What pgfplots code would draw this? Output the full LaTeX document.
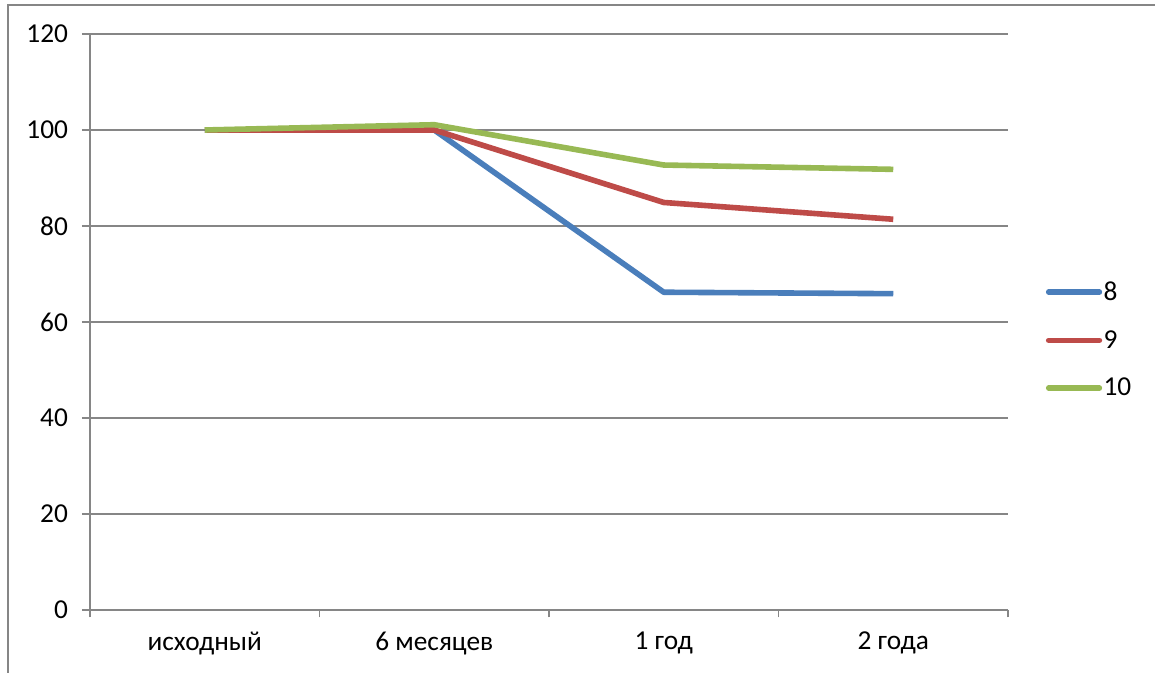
\documentclass[border=0pt]{standalone}
\usepackage{pgfplots}
\pgfplotsset{compat=1.18}
\usepackage{fontspec}
\setmainfont{Carlito}
\definecolor{gridgray}{HTML}{868686}
\definecolor{sblue}{HTML}{4A7EBB}
\definecolor{sred}{HTML}{BE4B48}
\definecolor{sgreen}{HTML}{98B954}
\begin{document}
\begin{tikzpicture}
\useasboundingbox (0,0) rectangle (866.25pt,504.75pt);
\draw[gridgray, line width=1.2pt] (6pt,-2pt) -- (6pt,501pt) -- (870pt,501pt);
\begin{axis}[
  at={(67.5pt,47.25pt)}, anchor=south west,
  scale only axis, width=688.5pt, height=432pt,
  xmin=-0.5, xmax=3.5, ymin=0, ymax=120,
  axis x line*=bottom, axis y line*=left,
  axis line style={gridgray, line width=1pt},
  every outer x axis line/.append style={-}, every outer y axis line/.append style={-},
  xtick={0,1,2,3},
  xticklabels={исходный, 6 месяцев, 1 год, 2 года},
  major x tick style={draw=none},
  minor xtick={-0.5,0.5,1.5,2.5,3.5},
  minor x tick style={gridgray, line width=1pt},
  minor tick length=5.5pt,
  ytick={0,20,...,120},
  major y tick style={gridgray, line width=1pt},
  major tick length=6pt,
  tick align=outside,
  ymajorgrids,
  grid style={gridgray, line width=1pt},
  tick label style={font=\fontsize{20.5}{24}\selectfont, text=black},
  /pgf/number format/assume math mode=true,
  yticklabel style={xshift=-7pt},
  xticklabel style={yshift=-7pt},
  legend style={at={(1.041,0.469)}, anchor=west, draw=none, fill=none,
    inner sep=0pt, font=\fontsize{20.5}{24}\selectfont, row sep=19pt,
    nodes={inner sep=1pt}},
  legend cell align=left,
  legend image code/.code={\draw[#1, line cap=round] (0pt,0pt) -- (38pt,0pt);},
]
\addplot[sblue, line width=4.2pt, line join=round] coordinates {(0,100) (1,100) (2,66.2) (3,65.9)};
\addlegendentry{8}
\addplot[sred, line width=4.2pt, line join=round] coordinates {(0,100) (1,100) (2,84.9) (3,81.4)};
\addlegendentry{9}
\addplot[sgreen, line width=4.2pt, line join=round] coordinates {(0,100) (1,101.1) (2,92.7) (3,91.8)};
\addlegendentry{10}
\end{axis}
\end{tikzpicture}
\end{document}
